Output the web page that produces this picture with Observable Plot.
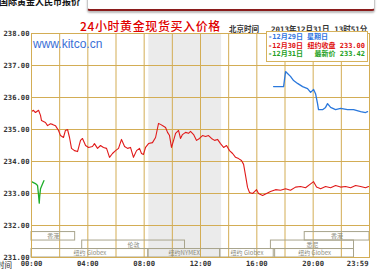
<!DOCTYPE html>
<html><head><meta charset="utf-8">
<script src="https://cdn.jsdelivr.net/npm/d3@7"></script>
<script src="https://cdn.jsdelivr.net/npm/@observablehq/plot@0.6"></script>
<style>
html,body{margin:0;padding:0;background:#fff;overflow:hidden}
#wrap{position:relative;width:379px;height:273px;overflow:hidden;font-family:"Noto Sans CJK SC","DejaVu Sans",sans-serif}
#chart{position:absolute;left:0;top:0}
.abs{position:absolute;white-space:nowrap}
.mix{font-family:"DejaVu Sans Mono","Noto Sans CJK SC",monospace}
</style></head>
<body>
<div id="wrap">
  <div id="chart"></div>
  <div class="abs" style="left:87px;top:-6px;width:286px;height:14px;border:1px solid #c8c8c8;border-bottom:2px solid #8a1c1c;border-radius:3px;box-shadow:0 2px 2px #bbb;background:#fff"></div>
  <div class="abs" id="pageTitle" style="left:-1px;top:-5px;font-size:9px;font-weight:bold;color:#111"></div>
  <div class="abs" id="chartTitle" style="left:80px;top:17px;font-size:12px;color:#e00000;letter-spacing:0.6px;font-weight:500"></div>
  <div class="abs" id="tzLabel" style="left:229px;top:23px;font-size:7.5px;font-weight:bold;color:#333"></div>
  <div class="abs mix" id="stamp" style="left:271px;top:23px;font-size:7.5px;font-weight:bold;color:#333"></div>
  <div class="abs" id="site" style="left:33px;top:37px;font-family:'Liberation Sans',Arial,sans-serif;font-size:12px;color:#3b6fd6"></div>
  <div class="abs" id="legend" style="left:266px;top:31px;width:100px;height:29px;border:1px solid #d6b25c;background:#fff"></div>
  <div class="abs" id="xname" style="left:-3px;top:260px;font-size:7.5px;line-height:9px;color:#222"></div>
</div>
<script>
// ---- data ----
const pageTitle = "国际黄金人民币报价";
const chartTitle = "24小时黄金现货买入价格";
const tzLabel = "北京时间";
const stamp = "2013年12月31日 13时51分";
const site = "www.kitco.cn";
const xName = "时间";

const yTicks = [231, 232, 233, 234, 235, 236, 237, 238];
const gridHours = [0, 2, 4, 6, 8, 10, 12, 14, 16, 18, 20, 22, 24];
const labelHours = [0, 4, 8, 12, 16, 20];
const endLabel = "23:59";

// 12月30日 (red)
const redH = [0.00,0.14,0.28,0.43,0.50,0.64,0.71,0.85,0.99,1.14,1.35,1.49,1.70,1.92,2.06,2.27,2.41,2.56,2.70,2.84,3.05,3.27,3.48,3.62,3.84,4.05,4.33,4.47,4.69,4.90,5.11,5.33,5.54,5.75,5.97,6.18,6.39,6.61,6.82,7.03,7.24,7.46,7.67,7.81,7.95,8.10,8.31,8.59,8.81,9.02,9.16,9.38,9.52,9.66,9.80,9.94,10.09,10.23,10.44,10.58,10.72,10.94,11.15,11.29,11.51,11.72,11.93,12.14,12.36,12.57,12.78,13.00,13.21,13.42,13.64,13.85,14.06,14.28,14.49,14.70,14.91,15.06,15.20,15.34,15.48,15.70,15.84,15.98,16.12,16.41,16.69,16.97,17.33,17.68,18.04,18.39,18.75,19.10,19.46,19.82,20.03,20.24,20.53,20.88,21.24,21.59,21.95,22.30,22.66,23.01,23.37,23.72,23.93];
const redV = [235.56,235.60,235.53,235.58,235.60,235.44,235.28,235.25,235.22,235.12,235.18,235.16,235.12,234.97,234.81,234.75,234.97,235.00,234.75,234.41,234.34,234.31,234.66,234.72,234.50,234.44,234.47,234.56,234.41,234.50,234.44,234.41,234.13,234.25,234.34,234.41,234.69,234.47,234.41,234.44,234.13,234.34,234.41,234.25,234.22,234.44,234.56,234.59,234.75,235.19,235.16,235.10,235.06,234.91,234.81,234.44,234.66,234.88,234.97,234.72,234.84,234.91,234.88,234.94,234.84,234.66,234.72,234.81,234.78,234.81,234.72,234.66,234.69,234.56,234.44,234.50,234.34,234.25,234.13,234.09,234.03,233.91,233.56,233.19,233.03,233.00,233.06,233.12,233.00,232.94,233.00,233.06,233.12,233.10,233.15,233.10,233.20,233.22,233.18,233.30,233.37,233.20,233.15,233.22,233.18,233.25,233.20,233.22,233.18,233.25,233.22,233.18,233.22];

// 12月29日 (blue)
const blueH = [17.19,17.90,18.04,18.18,18.39,18.61,18.89,19.25,19.60,19.82,20.03,20.17,20.31,20.38,20.67,20.88,21.02,21.24,21.59,21.95,22.44,22.87,23.37,23.72,23.86];
const blueV = [236.34,236.34,236.81,236.75,236.66,236.53,236.44,236.34,236.28,236.16,236.25,236.12,235.81,235.62,235.62,235.69,235.81,235.69,235.62,235.66,235.62,235.62,235.56,235.53,235.56];

// 12月31日 (green)
const greenH = [0.00,0.14,0.28,0.43,0.50,0.55,0.58,0.64,0.78,0.88];
const greenV = [233.37,233.34,233.31,233.25,232.95,232.70,232.90,233.15,233.30,233.40];

// shaded NYMEX session
const shade = [{start: 8.33, end: 13.5}];

// market session boxes (row 0 = top)
const sessName  = ["香港","香港","伦敦","悉尼","纽约 Globex","纽约NYMEX","纽约 Globex","纽约 Globex"];
const sessStart = [0, 19.4, 3.6, 17.0, 0, 8.3, 13.4, 17.3];
const sessEnd   = [3.1, 24, 10.9, 22.9, 8.3, 13.4, 17.2, 22.9];
const sessRow   = [0, 0, 1, 1, 2, 2, 2, 2];

// legend
const legDates  = ["-12月29日","-12月30日","-12月31日"];
const legInfo   = ["星期日","纽约收盘 233.00","最新价 233.42"];
const legColors = ["#2f74e0","#e01010","#22a022"];

// ---- build ----
const toPts = (H, V) => H.map((h, i) => ({h, v: V[i]}));
const red = toPts(redH, redV), blue = toPts(blueH, blueV), green = toPts(greenH, greenV);
const rowH = 0.265;
const sessions = sessName.map((n, i) => ({
  name: n, start: sessStart[i], end: sessEnd[i],
  top: 231 + (3 - sessRow[i]) * rowH, bot: 231 + (2 - sessRow[i]) * rowH
}));
const grid = "#d3ad55";
const mono = "'DejaVu Sans Mono', monospace";
const fmtH = h => String(h).padStart(2, "0") + ":00";

const chart = Plot.plot({
  width: 379, height: 273,
  marginLeft: 31, marginRight: 10, marginTop: 33, marginBottom: 16,
  x: {domain: [0, 24], axis: null},
  y: {domain: [231, 238], axis: null},
  style: {background: "transparent"},
  marks: [
    Plot.rect(shade, {x1: "start", x2: "end", fill: "#ebebeb"}),
    Plot.ruleX(gridHours, {stroke: grid, strokeWidth: 1}),
    Plot.ruleY(yTicks, {stroke: grid, strokeWidth: 1}),
    Plot.rect(sessions, {x1: "start", x2: "end", y1: "bot", y2: "top", fill: "none", stroke: "#a8a48c", strokeWidth: 1}),
    Plot.text(sessions, {x: d => (d.start + d.end) / 2, y: d => (d.top + d.bot) / 2, text: "name", fontSize: 6, fill: "#8c8c80", fontFamily: "'Noto Sans CJK SC', sans-serif"}),
    Plot.line(red, {x: "h", y: "v", stroke: "#e01a1a", strokeWidth: 1.1}),
    Plot.line(blue, {x: "h", y: "v", stroke: "#2a78dc", strokeWidth: 1.3}),
    Plot.line(green, {x: "h", y: "v", stroke: "#1fae2a", strokeWidth: 1.3}),
    Plot.frame({stroke: grid}),
    Plot.text(yTicks, {x: 0, y: d => d, text: d => d.toFixed(2), textAnchor: "end", dx: -2, fontSize: 7.2, fontWeight: "bold", fontFamily: mono, fill: "#333"}),
    Plot.text(labelHours, {x: d => d, frameAnchor: "bottom", dy: 8, text: fmtH, fontSize: 7.2, fontWeight: "bold", fontFamily: mono, fill: "#333"}),
    Plot.text([24], {x: d => d, frameAnchor: "bottom", dy: 8, text: () => endLabel, textAnchor: "end", dx: -1, fontSize: 7.2, fontWeight: "bold", fontFamily: mono, fill: "#333"})
  ]
});
document.getElementById("chart").append(chart);

document.getElementById("pageTitle").textContent = pageTitle;
document.getElementById("chartTitle").textContent = chartTitle;
document.getElementById("tzLabel").textContent = tzLabel;
document.getElementById("stamp").textContent = stamp;
document.getElementById("site").textContent = site;
document.getElementById("xname").textContent = xName;

const leg = document.getElementById("legend");
legDates.forEach((d, i) => {
  const base = `top:${i * 8.5 + 1}px;font-size:7px;font-weight:bold;color:${legColors[i]};line-height:8px`;
  const a = document.createElement("div");
  a.className = "abs mix";
  a.style.cssText = `left:1px;` + base;
  a.textContent = d;
  leg.append(a);
  const b = document.createElement("div");
  b.className = "abs mix";
  b.style.cssText = (i === 0 ? `left:40px;` : `right:2px;`) + base;
  b.textContent = legInfo[i];
  leg.append(b);
});
</script>
</body></html>
